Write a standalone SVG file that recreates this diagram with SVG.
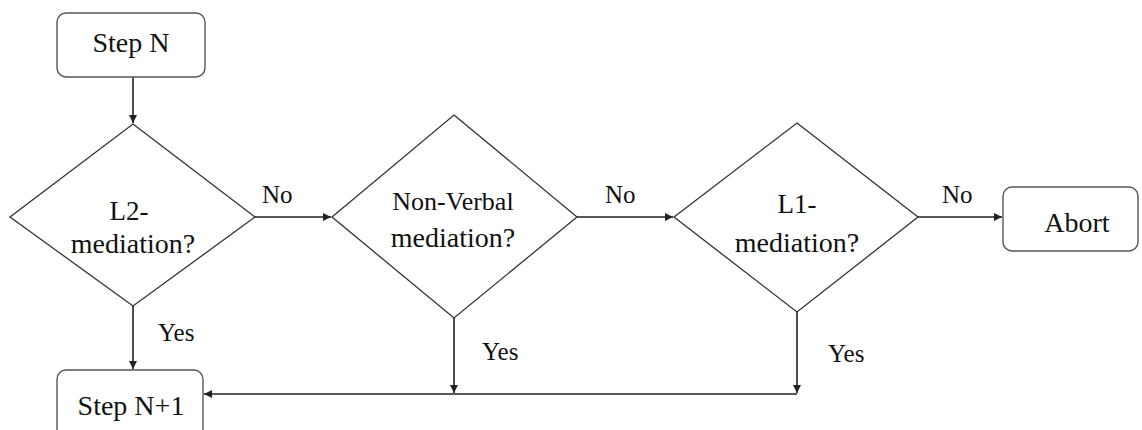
<svg xmlns="http://www.w3.org/2000/svg" width="1142" height="430" viewBox="0 0 1142 430">
<style>
.box{fill:#fff;stroke:#555;stroke-width:1.4}
.dia{fill:#fff;stroke:#333;stroke-width:1.3}
text{font-family:"Liberation Serif","Times New Roman","DejaVu Serif",serif}
.t{font-size:27px;fill:#111;text-anchor:middle}
.lbl{font-size:25px;fill:#111}
.c{fill:none;stroke:#222;stroke-width:1.6}
</style>
<defs>
<marker id="ah" viewBox="0 0 10 10" refX="10" refY="5" markerWidth="11" markerHeight="8" markerUnits="userSpaceOnUse" orient="auto">
<path d="M0,0 L10,5 L0,10 z" fill="#222"/>
</marker>
</defs>
<rect width="1142" height="430" fill="#fff"/>
<g id="connectors">
<line class="c" x1="133" y1="77" x2="133" y2="123" marker-end="url(#ah)"/>
<line class="c" x1="255" y1="217" x2="331" y2="217" marker-end="url(#ah)"/>
<line class="c" x1="577" y1="217" x2="673" y2="217" marker-end="url(#ah)"/>
<line class="c" x1="918" y1="217" x2="1002" y2="217" marker-end="url(#ah)"/>
<line class="c" x1="133" y1="306" x2="133" y2="369" marker-end="url(#ah)"/>
<line class="c" x1="454" y1="318" x2="454" y2="393" marker-end="url(#ah)"/>
<line class="c" x1="797" y1="312" x2="797" y2="393" marker-end="url(#ah)"/>
<line class="c" x1="797" y1="394" x2="204" y2="394" marker-end="url(#ah)"/>
<text class="lbl" x="262" y="203">No</text>
<text class="lbl" x="605" y="203">No</text>
<text class="lbl" x="942" y="203">No</text>
<text class="lbl" x="158" y="341">Yes</text>
<text class="lbl" x="482" y="360">Yes</text>
<text class="lbl" x="828" y="362">Yes</text>
</g>
<g id="stepN">
<rect class="box" x="57" y="13" width="148" height="64" rx="9"/>
<text class="t" x="131" y="52" style="font-size:28px">Step N</text>
</g>
<g id="l2">
<polygon class="dia" points="133,124 255,217 133,306 10,217"/>
<text class="t" x="129" y="220">L2-</text>
<text class="t" x="133" y="253" style="font-size:28px">mediation?</text>
</g>
<g id="nonverbal">
<polygon class="dia" points="454,115 577,217 454,318 332,217"/>
<text class="t" x="453" y="210" style="font-size:26px">Non-Verbal</text>
<text class="t" x="453" y="247" style="font-size:28px">mediation?</text>
</g>
<g id="l1">
<polygon class="dia" points="797,123 918,217 797,312 674,217"/>
<text class="t" x="797" y="213">L1-</text>
<text class="t" x="797" y="252" style="font-size:28px">mediation?</text>
</g>
<g id="abort">
<rect class="box" x="1003" y="187" width="135" height="64" rx="9"/>
<text class="t" x="1077" y="232" style="font-size:28px">Abort</text>
</g>
<g id="stepN1">
<rect class="box" x="57" y="370" width="146" height="70" rx="9"/>
<text class="t" x="131" y="415" style="font-size:28px">Step N+1</text>
</g>
</svg>
